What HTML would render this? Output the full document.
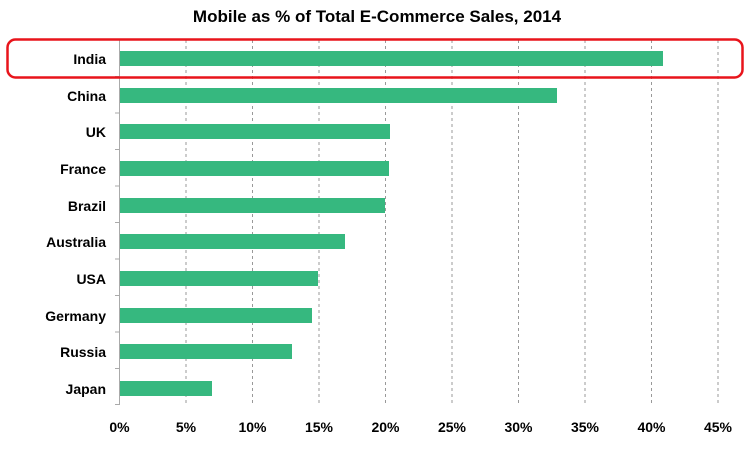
<!DOCTYPE html><html><head><style>body{margin:0;background:#fff}</style></head><body>
<svg width="754" height="447" xmlns="http://www.w3.org/2000/svg" font-family="Liberation Sans, sans-serif" font-weight="bold">
<text x="377" y="22" text-anchor="middle" font-size="17">Mobile as % of Total E-Commerce Sales, 2014</text>
<g stroke="#999" stroke-dasharray="3,3" stroke-width="1">
<line x1="186" y1="40" x2="186" y2="405"/><line x1="252.5" y1="40" x2="252.5" y2="405"/><line x1="319" y1="40" x2="319" y2="405"/><line x1="385.5" y1="40" x2="385.5" y2="405"/><line x1="452" y1="40" x2="452" y2="405"/><line x1="518.5" y1="40" x2="518.5" y2="405"/><line x1="585" y1="40" x2="585" y2="405"/><line x1="651.5" y1="40" x2="651.5" y2="405"/><line x1="718" y1="40" x2="718" y2="405"/>
</g>
<line x1="119.5" y1="40" x2="119.5" y2="405" stroke="#aaa"/>
<g stroke="#aaa"><line x1="115" y1="76.5" x2="119" y2="76.5"/><line x1="115" y1="113" x2="119" y2="113"/><line x1="115" y1="149.5" x2="119" y2="149.5"/><line x1="115" y1="186" x2="119" y2="186"/><line x1="115" y1="222.5" x2="119" y2="222.5"/><line x1="115" y1="259" x2="119" y2="259"/><line x1="115" y1="295.5" x2="119" y2="295.5"/><line x1="115" y1="332" x2="119" y2="332"/><line x1="115" y1="368.5" x2="119" y2="368.5"/><line x1="115" y1="404.5" x2="119" y2="404.5"/></g>
<g fill="#36b87f">
<rect x="120" y="51" width="543" height="15"/>
<rect x="120" y="88" width="437" height="15"/>
<rect x="120" y="124" width="270" height="15"/>
<rect x="120" y="161" width="269" height="15"/>
<rect x="120" y="198" width="265" height="15"/>
<rect x="120" y="234" width="225" height="15"/>
<rect x="120" y="271" width="198" height="15"/>
<rect x="120" y="308" width="192" height="15"/>
<rect x="120" y="344" width="172" height="15"/>
<rect x="120" y="381" width="92" height="15"/>
</g>
<g font-size="14" text-anchor="end" fill="#000">
<text x="106" y="64">India</text><text x="106" y="101">China</text><text x="106" y="137">UK</text><text x="106" y="174">France</text><text x="106" y="211">Brazil</text><text x="106" y="247">Australia</text><text x="106" y="284">USA</text><text x="106" y="321">Germany</text><text x="106" y="357">Russia</text><text x="106" y="394">Japan</text>
</g>
<g font-size="14" text-anchor="middle">
<text x="119.5" y="432">0%</text><text x="186" y="432">5%</text><text x="252.5" y="432">10%</text><text x="319" y="432">15%</text><text x="385.5" y="432">20%</text><text x="452" y="432">25%</text><text x="518.5" y="432">30%</text><text x="585" y="432">35%</text><text x="651.5" y="432">40%</text><text x="718" y="432">45%</text>
</g>
<rect x="7.5" y="39.5" width="735" height="38" rx="8" fill="none" stroke="#e8141b" stroke-width="2.5"/>
</svg></body></html>
